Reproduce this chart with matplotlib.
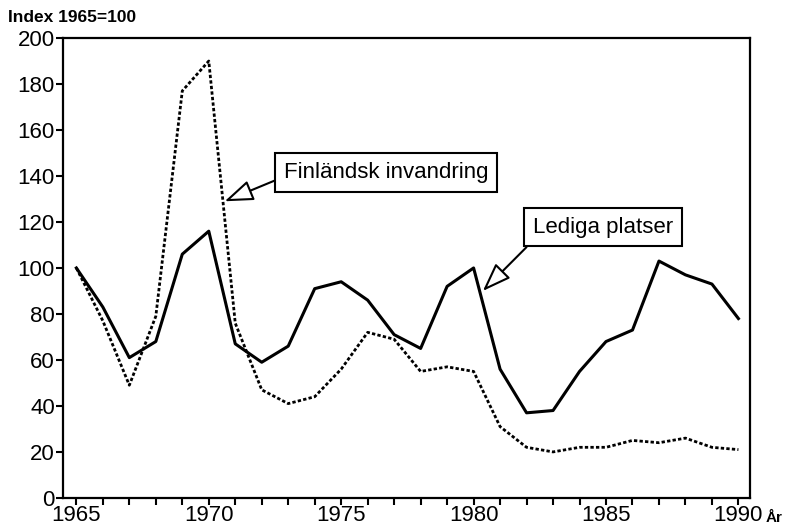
import numpy as np
import matplotlib.pyplot as plt

plt.rcParams['font.family'] = ['Liberation Sans', 'DejaVu Sans']

# Data (Index 1965=100)
years = np.arange(1965, 1991)
lediga = [100, 83, 61, 68, 106, 116, 67, 59, 66, 91, 94, 86, 71, 65, 92, 100,
          56, 37, 38, 55, 68, 73, 103, 97, 93, 78]
finsk = [100, 77, 49, 79, 177, 190, 76, 47, 41, 44, 56, 72, 69, 55, 57, 55,
         31, 22, 20, 22, 22, 25, 24, 26, 22, 21]
year_labels = [1965, 1970, 1975, 1980, 1985, 1990]

fig = plt.figure(figsize=(7.89, 5.28), dpi=100)
ax = fig.add_axes([0.080, 0.057, 0.871, 0.871])

ax.plot(years, lediga, color='black', lw=2.2)
ax.plot(years, finsk, color='black', lw=2.0, linestyle=(0, (1.2, 0.8)))

ax.set_xlim(1964.5, 1990.45)
ax.set_ylim(0, 200)
ax.set_yticks(np.arange(0, 201, 20))
ax.set_xticks(years, minor=True)
ax.set_xticks(year_labels)
ax.tick_params(axis='both', which='both', direction='out', length=5, width=1.5,
               labelsize=16, pad=1)
ax.tick_params(axis='x', pad=0)
for s in ax.spines.values():
    s.set_linewidth(1.6)

fig.text(0.010, 0.967, 'Index 1965=100', fontsize=12.5, fontweight='bold',
         ha='left', va='center')
fig.text(0.970, 0.018, 'År', fontsize=11, fontweight='bold', ha='left', va='center')

box = dict(boxstyle='square,pad=0.4', fc='white', ec='black', lw=1.5)


def arrow(rel):
    return dict(arrowstyle='-|>,head_length=1.1,head_width=0.4', fc='white',
                ec='black', lw=1.5, mutation_scale=16, shrinkA=0, shrinkB=0,
                relpos=rel)


ax.annotate('Finländsk invandring', xy=(1970.6, 129), xytext=(1976.7, 141.5),
            fontsize=16, ha='center', va='center', bbox=box,
            arrowprops=arrow((0, 0.3)))
ax.annotate('Lediga platser', xy=(1980.35, 90), xytext=(1984.9, 117.8),
            fontsize=16, ha='center', va='center', bbox=box,
            arrowprops=arrow((0.02, 0)))

fig.savefig('out.png', dpi=100)
